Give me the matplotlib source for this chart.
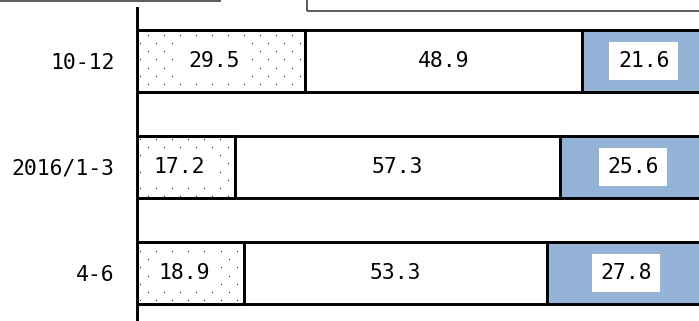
import matplotlib
matplotlib.use("Agg")
import matplotlib.pyplot as plt
from matplotlib.patches import Rectangle
import numpy as np

categories = ["10-12", "2016/1-3", "4-6"]
seg_dotted = [29.5, 17.2, 18.9]
seg_white = [48.9, 57.3, 53.3]
seg_blue = [21.6, 25.6, 27.8]

W, H = 699, 321
DPI = 100
fig = plt.figure(figsize=(W / DPI, H / DPI), dpi=DPI)
FONT = ['DejaVu Sans Mono']
FS = 15.4

AX_W, AX_H = 568, 318
ax = fig.add_axes([137 / W, -5 / H, AX_W / W, AX_H / H])
ypos = np.arange(len(categories))
bh = 0.585
lw = 2.1
blue = '#95b3d7'
navy = (0.0, 0.0, 0.5)

d = np.array(seg_dotted)
w = np.array(seg_white)
b = np.array(seg_blue)

# dot texture (fill style), one pixel per image cell
ph, pw = AX_H, AX_W
tex = np.zeros((ph, pw, 4))
rr, cc = np.mgrid[0:ph, 0:pw]
mask = (rr % 8 == 4) & (((cc + 8 * ((rr // 8) % 2)) % 16) == 3)
tex[mask] = (*navy, 1.0)

dot_bars = ax.barh(ypos, d, height=bh, left=0, color='white', edgecolor='black',
                   linewidth=lw, zorder=2)
for patch in dot_bars:
    im = ax.imshow(tex, extent=[0, 1, 0, 1], transform=ax.transAxes,
                   interpolation='nearest', aspect='auto', zorder=2.5)
    im.set_clip_path(patch)
# outline again above the texture
ax.barh(ypos, d, height=bh, left=0, fill=False, edgecolor='black',
        linewidth=lw, zorder=3)
ax.barh(ypos, w, height=bh, left=d, color='white', edgecolor='black',
        linewidth=lw, zorder=3)
ax.barh(ypos, b, height=bh, left=d + w, color=blue, edgecolor='black',
        linewidth=lw, zorder=3)

box = dict(boxstyle='square,pad=0.4', facecolor='white', edgecolor='none')
for i in range(len(categories)):
    ax.annotate(f"{d[i]:.1f}", (d[i] / 2, ypos[i]), xytext=(-4.5, 0),
                textcoords='offset points', ha='center', va='center',
                fontsize=FS, family=FONT, zorder=5, bbox=box)
    ax.text(d[i] + w[i] / 2, ypos[i], f"{w[i]:.1f}", ha='center', va='center',
            fontsize=FS, family=FONT, zorder=5)
    ax.text(d[i] + w[i] + b[i] / 2, ypos[i], f"{b[i]:.1f}", ha='center',
            va='center', fontsize=FS, family=FONT, zorder=5, bbox=box)

ax.set_xlim(0, 100)
ax.set_ylim(len(categories) - 0.5, -0.5)
ax.set_yticks(ypos)
ax.set_yticklabels(categories, fontsize=FS, family=FONT)
ax.tick_params(axis='y', length=0, pad=16)
ax.set_xticks([])
for s in ['top', 'right', 'bottom']:
    ax.spines[s].set_visible(False)
ax.spines['left'].set_linewidth(lw)
ax.spines['left'].set_color('black')
ax.set_facecolor('none')

# cropped title / legend frames at the top
fig.patches.append(Rectangle((-0.01, 1 - 1 / H), 220 / W + 0.01, 0.2,
                             transform=fig.transFigure, fill=False,
                             edgecolor='#404040', linewidth=1.2))
fig.patches.append(Rectangle((307 / W, 1 - 11 / H), 0.6, 0.2,
                             transform=fig.transFigure, fill=False,
                             edgecolor='#404040', linewidth=1.2))

fig.savefig("out.png", dpi=DPI)
